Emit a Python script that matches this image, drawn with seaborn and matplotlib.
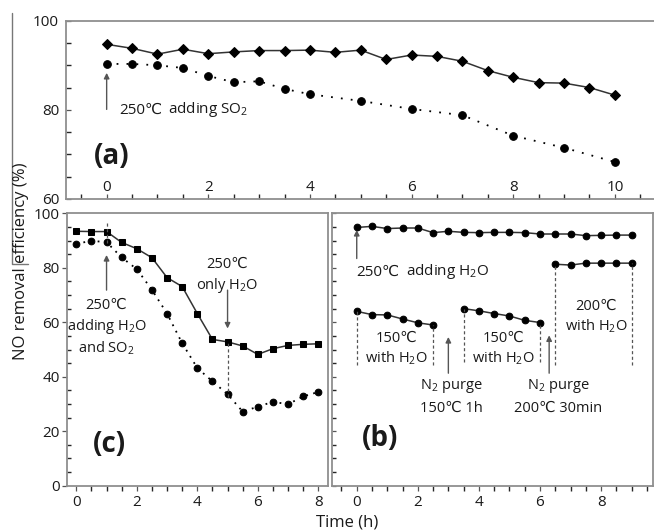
import matplotlib
matplotlib.use("Agg")
import matplotlib.pyplot as plt
from matplotlib.ticker import MultipleLocator, NullFormatter
import seaborn as sns

# ---------------- data ----------------
# (a) 250 ℃, SO2 added
a_t_top = [0, 0.5, 1, 1.5, 2, 2.5, 3, 3.5, 4, 4.5, 5, 5.5, 6, 6.5, 7, 7.5, 8, 8.5, 9, 9.5, 10]
a_top = [94.7, 93.8, 92.5, 93.6, 92.6, 93.0, 93.3, 93.3, 93.4, 92.9, 93.4, 91.3, 92.3, 92.0,
         90.9, 88.8, 87.3, 86.1, 86.0, 85.0, 83.3]
a_t_bot = [0, 0.5, 1, 1.5, 2, 2.5, 3, 3.5, 4, 5, 6, 7, 8, 9, 10]
a_bot = [90.3, 90.3, 90.0, 89.4, 87.6, 86.2, 86.4, 84.7, 83.5, 82.0, 80.2, 78.8, 74.2, 71.5, 68.3]

# (c) 250 ℃, H2O + SO2 added
c_t = [0, 0.5, 1, 1.5, 2, 2.5, 3, 3.5, 4, 4.5, 5, 5.5, 6, 6.5, 7, 7.5, 8]
c_top = [93.4, 93.3, 93.3, 89.3, 87.0, 83.7, 76.4, 73.1, 63.2, 53.7, 52.8, 51.3, 48.2, 50.3,
         51.5, 51.9, 52.1]
c_bot = [88.8, 89.9, 89.4, 83.8, 79.5, 71.9, 63.2, 52.3, 43.2, 38.3, 33.6, 27.2, 29.0, 30.8,
         29.9, 32.8, 34.4]

# (b) H2O at different temperatures
b_t_250 = [0, 0.5, 1, 1.5, 2, 2.5, 3, 3.5, 4, 4.5, 5, 5.5, 6, 6.5, 7, 7.5, 8, 8.5, 9]
b_250 = [94.8, 95.2, 94.4, 94.6, 94.6, 92.9, 93.4, 93.0, 92.9, 93.0, 93.0, 92.9, 92.4, 92.4,
         92.4, 91.8, 91.9, 92.0, 92.0]
b_t_150a = [0, 0.5, 1, 1.5, 2, 2.5]
b_150a = [64.0, 62.8, 62.7, 61.2, 59.8, 59.0]
b_t_150b = [3.5, 4, 4.5, 5, 5.5, 6]
b_150b = [65.0, 64.2, 63.2, 62.3, 60.7, 59.9]
b_t_200 = [6.5, 7, 7.5, 8, 8.5, 9]
b_200 = [81.3, 81.0, 81.7, 81.7, 81.7, 81.7]

# ---------------- style ----------------
sns.set_theme(style="ticks")
plt.rcParams["font.family"] = ["Open Sans", "DejaVu Sans"]
plt.rcParams["mathtext.fontset"] = "custom"
plt.rcParams["mathtext.rm"] = "Open Sans"
plt.rcParams["mathtext.default"] = "regular"

W, H = 654, 531
fig = plt.figure(figsize=(W / 100, H / 100), dpi=100)
fig.patch.set_facecolor("white")

SPINE = "#8f8f8f"
TICK = "#555555"
TXT = "#1a1a1a"
LINE = "#333333"
ARROW = "#555555"
DEG = "\u2103"


def rect(x0, y0, x1, y1):
    return [x0 / W, 1 - y1 / H, (x1 - x0) / W, (y1 - y0) / H]


ax_a = fig.add_axes(rect(66, 20.7, 654, 199))
ax_c = fig.add_axes(rect(66.7, 213.3, 327.7, 485.7))
ax_b = fig.add_axes(rect(332.3, 213.3, 653, 485.7))

for ax in (ax_a, ax_b, ax_c):
    ax.set_facecolor("white")
    for s in ax.spines.values():
        s.set_color(SPINE)
        s.set_linewidth(1.3)
    ax.tick_params(colors=TICK, labelcolor=TXT, labelsize=11, width=0.9)

ax_a.spines["right"].set_visible(False)


def arrow(ax, x, y_from, y_to):
    ax.annotate("", xy=(x, y_to), xytext=(x, y_from),
                arrowprops=dict(arrowstyle="-|>", color=ARROW, lw=1.0, mutation_scale=8,
                                shrinkA=0, shrinkB=0))


def temp_label(ax, x, y, rest, gap=4.5, size=11):
    """Temperature followed by a mathtext note, kept as two text pieces."""
    t = ax.text(x, y, f"250{DEG}", fontsize=size, color=TXT, va="center", ha="left")
    ax.annotate(rest, xy=(1, 0.5), xycoords=t, xytext=(gap, 0), textcoords="offset points",
                fontsize=size, color=TXT, va="center", ha="left")


# ---------------- panel (a) ----------------
sns.lineplot(x=a_t_top, y=a_top, ax=ax_a, color=LINE, linewidth=1.1, marker="D",
             markersize=5, markerfacecolor="black", markeredgecolor="black")
sns.lineplot(x=a_t_bot, y=a_bot, ax=ax_a, color="black", linewidth=1.3,
             linestyle=(0, (1, 4.5)), marker="o", markersize=5.5,
             markerfacecolor="black", markeredgecolor="black")
ax_a.set_xlim(-0.80, 10.77)
ax_a.set_ylim(60, 100)
ax_a.xaxis.set_major_locator(MultipleLocator(2))
ax_a.xaxis.set_minor_locator(MultipleLocator(0.5))
ax_a.yaxis.set_major_locator(MultipleLocator(20))
ax_a.yaxis.set_minor_locator(MultipleLocator(5))
ax_a.tick_params(axis="x", which="both", direction="in", length=3.5, pad=-13.5)
ax_a.tick_params(axis="y", which="both", direction="in", length=3.5, pad=5)
arrow(ax_a, 0, 80.1, 88.3)
temp_label(ax_a, 0.24, 80.0, "adding SO$_2$")
ax_a.text(0.1, 69.5, "(a)", fontsize=20, fontweight="bold", color=TXT, va="center", ha="center")

# ---------------- panel (c) ----------------
sns.lineplot(x=c_t, y=c_top, ax=ax_c, color=LINE, linewidth=1.1, marker="s",
             markersize=4.5, markerfacecolor="black", markeredgecolor="black")
sns.lineplot(x=c_t, y=c_bot, ax=ax_c, color="black", linewidth=1.3,
             linestyle=(0, (1, 3)), marker="o", markersize=4.8,
             markerfacecolor="black", markeredgecolor="black")
ax_c.set_xlim(-0.317, 8.31)
ax_c.set_ylim(0, 100)
ax_c.xaxis.set_major_locator(MultipleLocator(2))
ax_c.xaxis.set_minor_locator(MultipleLocator(0.5))
ax_c.yaxis.set_major_locator(MultipleLocator(20))
ax_c.yaxis.set_minor_locator(MultipleLocator(5))
ax_c.tick_params(axis="x", which="both", direction="out", length=3.5, pad=3)
ax_c.tick_params(axis="y", which="major", direction="out", length=3.5, pad=1.5)
ax_c.tick_params(axis="y", which="minor", direction="in", length=3)

ax_c.vlines([1], 89.0, 96.9, colors=ARROW, linestyles=(0, (2.5, 2)), linewidth=0.9)
ax_c.vlines([5], 32.5, 52.8, colors=ARROW, linestyles=(0, (2.5, 2)), linewidth=0.9)
arrow(ax_c, 1, 71.8, 84.7)
arrow(ax_c, 5, 71.8, 57.7)
ax_c.text(1.0, 58.0, f"250{DEG}\nadding H$_2$O\nand SO$_2$", fontsize=10.5, color=TXT,
          ha="center", va="center", linespacing=1.3)
ax_c.text(4.97, 77.0, f"250{DEG}\nonly H$_2$O", fontsize=10.5, color=TXT,
          ha="center", va="center", linespacing=1.3)
ax_c.text(1.1, 15.3, "(c)", fontsize=20, fontweight="bold", color=TXT, ha="center", va="center")

# ---------------- panel (b) ----------------
for xs, ys in ((b_t_250, b_250), (b_t_150a, b_150a), (b_t_150b, b_150b), (b_t_200, b_200)):
    sns.lineplot(x=xs, y=ys, ax=ax_b, color=LINE, linewidth=1.1, marker="o", markersize=4.8,
                 markerfacecolor="black", markeredgecolor="black")
ax_b.set_xlim(-0.80, 9.70)
ax_b.set_ylim(0, 100)
ax_b.xaxis.set_major_locator(MultipleLocator(2))
ax_b.xaxis.set_minor_locator(MultipleLocator(0.5))
ax_b.yaxis.set_major_locator(MultipleLocator(20))
ax_b.yaxis.set_minor_locator(MultipleLocator(5))
ax_b.yaxis.set_major_formatter(NullFormatter())
ax_b.tick_params(axis="x", which="both", direction="out", length=3.5, pad=3)
ax_b.tick_params(axis="y", which="both", direction="in", length=3)

dash_x = [0, 2.5, 3.5, 6, 6.5, 9]
dash_top = [64.0, 59.0, 65.0, 59.9, 81.3, 81.7]
dash_bot = [44.2, 44.2, 45.4, 45.4, 44.2, 44.2]
ax_b.vlines(dash_x, dash_bot, dash_top, colors=ARROW, linestyles=(0, (2.5, 2)), linewidth=0.9)

arrow(ax_b, 0, 83.4, 93.9)
arrow(ax_b, 3.0, 41.3, 54.6)
arrow(ax_b, 6.3, 41.3, 55.2)

temp_label(ax_b, -0.02, 78.5, "adding H$_2$O", gap=5)
ax_b.text(1.29, 50.2, f"150{DEG}\nwith H$_2$O", fontsize=10.5, color=TXT, ha="center", va="center",
          linespacing=1.3)
ax_b.text(4.8, 50.2, f"150{DEG}\nwith H$_2$O", fontsize=10.5, color=TXT, ha="center", va="center",
          linespacing=1.3)
ax_b.text(7.84, 62.0, f"200{DEG}\nwith H$_2$O", fontsize=10.5, color=TXT, ha="center", va="center",
          linespacing=1.3)
ax_b.text(3.1, 32.8, f"N$_2$ purge\n150{DEG} 1h", fontsize=10.5, color=TXT, ha="center",
          va="center", linespacing=1.6)
ax_b.text(6.6, 32.8, f"N$_2$ purge\n200{DEG} 30min", fontsize=10.5, color=TXT, ha="center",
          va="center", linespacing=1.6)
ax_b.text(0.76, 17.2, "(b)", fontsize=20, fontweight="bold", color=TXT, ha="center", va="center")

# ---------------- shared labels and frame remnant ----------------
fig.text(21 / W, 1 - 261.5 / H, "NO removal efficiency (%)", rotation=90, fontsize=12,
         color=TXT, ha="center", va="center")
fig.text(346.7 / W, 1 - 522.7 / H, "Time (h)", fontsize=12, color=TXT, ha="center", va="center")
fig.add_artist(plt.Line2D([12 / W, 12 / W, 28 / W], [1 - 13 / H, 1 - 264 / H, 1 - 264 / H],
                          transform=fig.transFigure, color="#777777", linewidth=1.0))

fig.savefig("out.png", dpi=100, facecolor="white")
